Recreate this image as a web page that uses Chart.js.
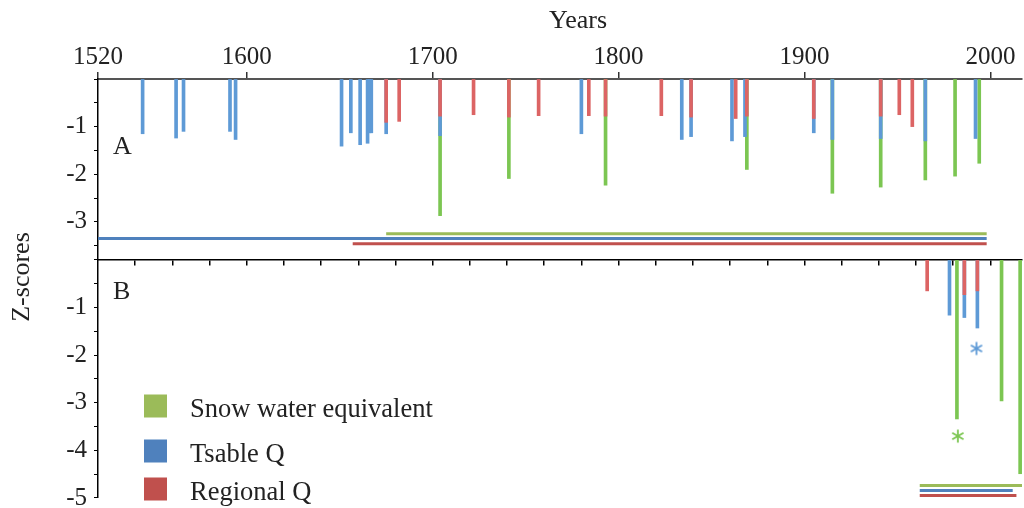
<!DOCTYPE html>
<html>
<head>
<meta charset="utf-8">
<script src="https://cdn.jsdelivr.net/npm/chart.js@4"></script>
<style>
  html, body { margin: 0; padding: 0; background: #fff; }
</style>
</head>
<body>
<canvas id="zChart" width="1024" height="508"></canvas>
<script>
const seriesNames = ['Snow water equivalent', 'Tsable Q', 'Regional Q'];
const xTickYears = [1520, 1600, 1700, 1800, 1900, 2000];
const minorTickYears = [1540, 1560, 1580, 1600, 1620, 1640, 1660, 1680, 1700, 1720, 1740, 1760, 1780,
  1800, 1820, 1840, 1860, 1880, 1900, 1920, 1940, 1960, 1980, 2000];

// panel A: tree-ring reconstruction period
const sweYearsA = [1704, 1741, 1793, 1869, 1915, 1941, 1965, 1981, 1994];
const sweZA = [-2.87, -2.09, -2.23, -1.9, -2.4, -2.27, -2.12, -2.04, -1.77];
const tsableYearsA = [1544, 1562, 1566, 1591, 1594, 1651, 1656, 1661, 1665, 1666, 1667, 1675, 1704,
  1780, 1834, 1839, 1861, 1868, 1905, 1915, 1941, 1965, 1992];
const tsableZA = [-1.15, -1.24, -1.1, -1.1, -1.27, -1.41, -1.13, -1.38, -1.35, -1.13, -1.13, -1.15, -1.19,
  -1.15, -1.27, -1.21, -1.3, -1.21, -1.13, -1.27, -1.25, -1.3, -1.25];
const regionalYearsA = [1675, 1682, 1704, 1722, 1741, 1757, 1784, 1793, 1823, 1839, 1863, 1869, 1905,
  1941, 1951, 1958];
const regionalZA = [-0.91, -0.89, -0.78, -0.75, -0.8, -0.77, -0.77, -0.78, -0.77, -0.8, -0.83, -0.78, -0.83,
  -0.78, -0.75, -1.0];

// panel B: instrumental period
const sweYearsB = [1982, 2006, 2016];
const sweZB = [-3.34, -2.96, -4.49];
const tsableYearsB = [1978, 1986, 1993];
const tsableZB = [-1.16, -1.21, -1.43];
const regionalYearsB = [1966, 1986, 1993];
const regionalZB = [-0.65, -0.73, -0.65];

// record spans (swe, tsable, regional)
const spanStartA = [1675, 1520, 1657];
const spanEndA = [1998, 1998, 1998];
const spanLevelA = [-3.25, -3.35, -3.46];
const spanStartB = [1962, 1962, 1962];
const spanEndB = [2017, 2012, 2014];
const spanLevelB = [-4.74, -4.84, -4.95];

// significance marks
const starYears = [1982.5, 1992.5];
const starZ = [-3.7, -1.86];

const legendColors = ['#9bbb59', '#4f81bd', '#c0504d'];
const barColors = ['#7cc652', '#5e9ad6', '#dc6464'];
const serif = 'Liberation Serif';

function bars(i, years, zs, axis) {
  return {
    type: 'bar', label: seriesNames[i],
    data: years.map((x, k) => ({ x: x, y: zs[k] })),
    backgroundColor: barColors[i], borderWidth: 0,
    barThickness: 3, grouped: false,
    xAxisID: 'x', yAxisID: axis, order: 10 - i
  };
}

function span(i, start, end, level, axis) {
  return {
    type: 'line', label: seriesNames[i],
    data: [{ x: start[i], y: level[i] }, { x: end[i], y: level[i] }],
    borderColor: legendColors[i], borderWidth: 3, pointRadius: 0,
    xAxisID: 'x', yAxisID: axis, order: 1
  };
}

// six-armed asterisk used as point style
function asterisk(color) {
  const c = document.createElement('canvas');
  c.width = 16; c.height = 16;
  const g = c.getContext('2d');
  g.strokeStyle = color;
  g.lineWidth = 1.8;
  for (let k = 0; k < 3; k++) {
    const a = Math.PI / 2 + k * Math.PI / 3;
    g.beginPath();
    g.moveTo(8 - 6.5 * Math.cos(a), 8 - 6.5 * Math.sin(a));
    g.lineTo(8 + 6.5 * Math.cos(a), 8 + 6.5 * Math.sin(a));
    g.stroke();
  }
  return c;
}

function star(i, k) {
  return {
    type: 'scatter', label: seriesNames[i],
    data: [{ x: starYears[k], y: starZ[k] }],
    pointStyle: asterisk(barColors[i]), pointRadius: 8,
    xAxisID: 'x', yAxisID: 'yB', order: 0
  };
}

const zLabel = v => (v !== 0 && Math.abs(v - Math.round(v)) < 1e-6) ? String(Math.round(v)) : '';

const extras = {
  id: 'extras',
  afterDraw(chart) {
    const { ctx, chartArea, scales } = chart;
    ctx.save();
    ctx.fillStyle = '#222';
    ctx.font = '26px "' + serif + '"';
    ctx.textBaseline = 'middle';
    ctx.textAlign = 'center';
    ctx.fillText('Years', 578, 21);
    ctx.save();
    ctx.translate(22, 277);
    ctx.rotate(-Math.PI / 2);
    ctx.fillText('Z-scores', 0, 0);
    ctx.restore();

    ctx.textAlign = 'left';
    ctx.fillText('A', chartArea.left + 15, scales.yA.getPixelForValue(-1.43));
    ctx.fillText('B', chartArea.left + 15, scales.yB.getPixelForValue(-0.68));

    // legend
    const rows = [406, 451, 489];
    ctx.font = '26.5px "' + serif + '"';
    seriesNames.forEach((name, i) => {
      ctx.fillStyle = legendColors[i];
      ctx.fillRect(144, rows[i] - 11.5, 23, 23);
      ctx.fillStyle = '#222';
      ctx.fillText(name, 190, rows[i] + 4);
    });
    ctx.restore();
  }
};

const yCommon = {
  type: 'linear', position: 'left', stack: 'z', max: 0,
  afterFit: s => { s.width = 58; s.paddingTop = 0; s.paddingBottom = 0; },
  ticks: {
    stepSize: 0.5, includeBounds: false, autoSkip: false, callback: zLabel, padding: 7,
    color: '#222', font: { family: serif, size: 25 }
  },
  grid: { drawOnChartArea: false, tickLength: 4, color: '#000', lineWidth: 1 },
  border: { color: '#000', width: 1.5 }
};

new Chart(document.getElementById('zChart'), {
  type: 'bar',
  data: {
    datasets: [
      bars(0, sweYearsA, sweZA, 'yA'),
      bars(1, tsableYearsA, tsableZA, 'yA'),
      bars(2, regionalYearsA, regionalZA, 'yA'),
      bars(0, sweYearsB, sweZB, 'yB'),
      bars(1, tsableYearsB, tsableZB, 'yB'),
      bars(2, regionalYearsB, regionalZB, 'yB'),
      span(0, spanStartA, spanEndA, spanLevelA, 'yA'),
      span(1, spanStartA, spanEndA, spanLevelA, 'yA'),
      span(2, spanStartA, spanEndA, spanLevelA, 'yA'),
      span(0, spanStartB, spanEndB, spanLevelB, 'yB'),
      span(1, spanStartB, spanEndB, spanLevelB, 'yB'),
      span(2, spanStartB, spanEndB, spanLevelB, 'yB'),
      star(0, 0),
      star(1, 1)
    ]
  },
  options: {
    responsive: false,
    animation: false,
    layout: { autoPadding: false, padding: { left: 40, right: 2, top: 0, bottom: 10 } },
    plugins: {
      legend: { display: false },
      tooltip: { enabled: false }
    },
    scales: {
      x: {
        type: 'linear', position: 'top', min: 1520, max: 2017, offset: false,
        afterBuildTicks: s => { s.ticks = xTickYears.map(v => ({ value: v })); },
        afterFit: s => { s.height = 79; s.paddingLeft = 0; s.paddingRight = 0; },
        ticks: {
          autoSkip: false, maxRotation: 0, padding: 0, color: '#222',
          font: { family: serif, size: 25 },
          callback: v => String(v)
        },
        grid: { offset: false, drawOnChartArea: false, tickLength: 7, color: '#333', lineWidth: 1.5 },
        border: { color: '#555', width: 2 }
      },
      xB: {
        type: 'linear', axis: 'x', position: { yB: 0 }, min: 1520, max: 2017, offset: false,
        afterBuildTicks: s => { s.ticks = minorTickYears.map(v => ({ value: v })); },
        ticks: { display: false },
        grid: { offset: false, drawOnChartArea: false, tickLength: 5, color: '#000', lineWidth: 1.5 },
        border: { color: '#000', width: 1.5 }
      },
      yA: Object.assign({}, yCommon, { min: -3.8, stackWeight: 3.8, weight: 2 }),
      yB: Object.assign({}, yCommon, { min: -5, stackWeight: 5, weight: 1 })
    }
  },
  plugins: [extras]
});
</script>
</body>
</html>
